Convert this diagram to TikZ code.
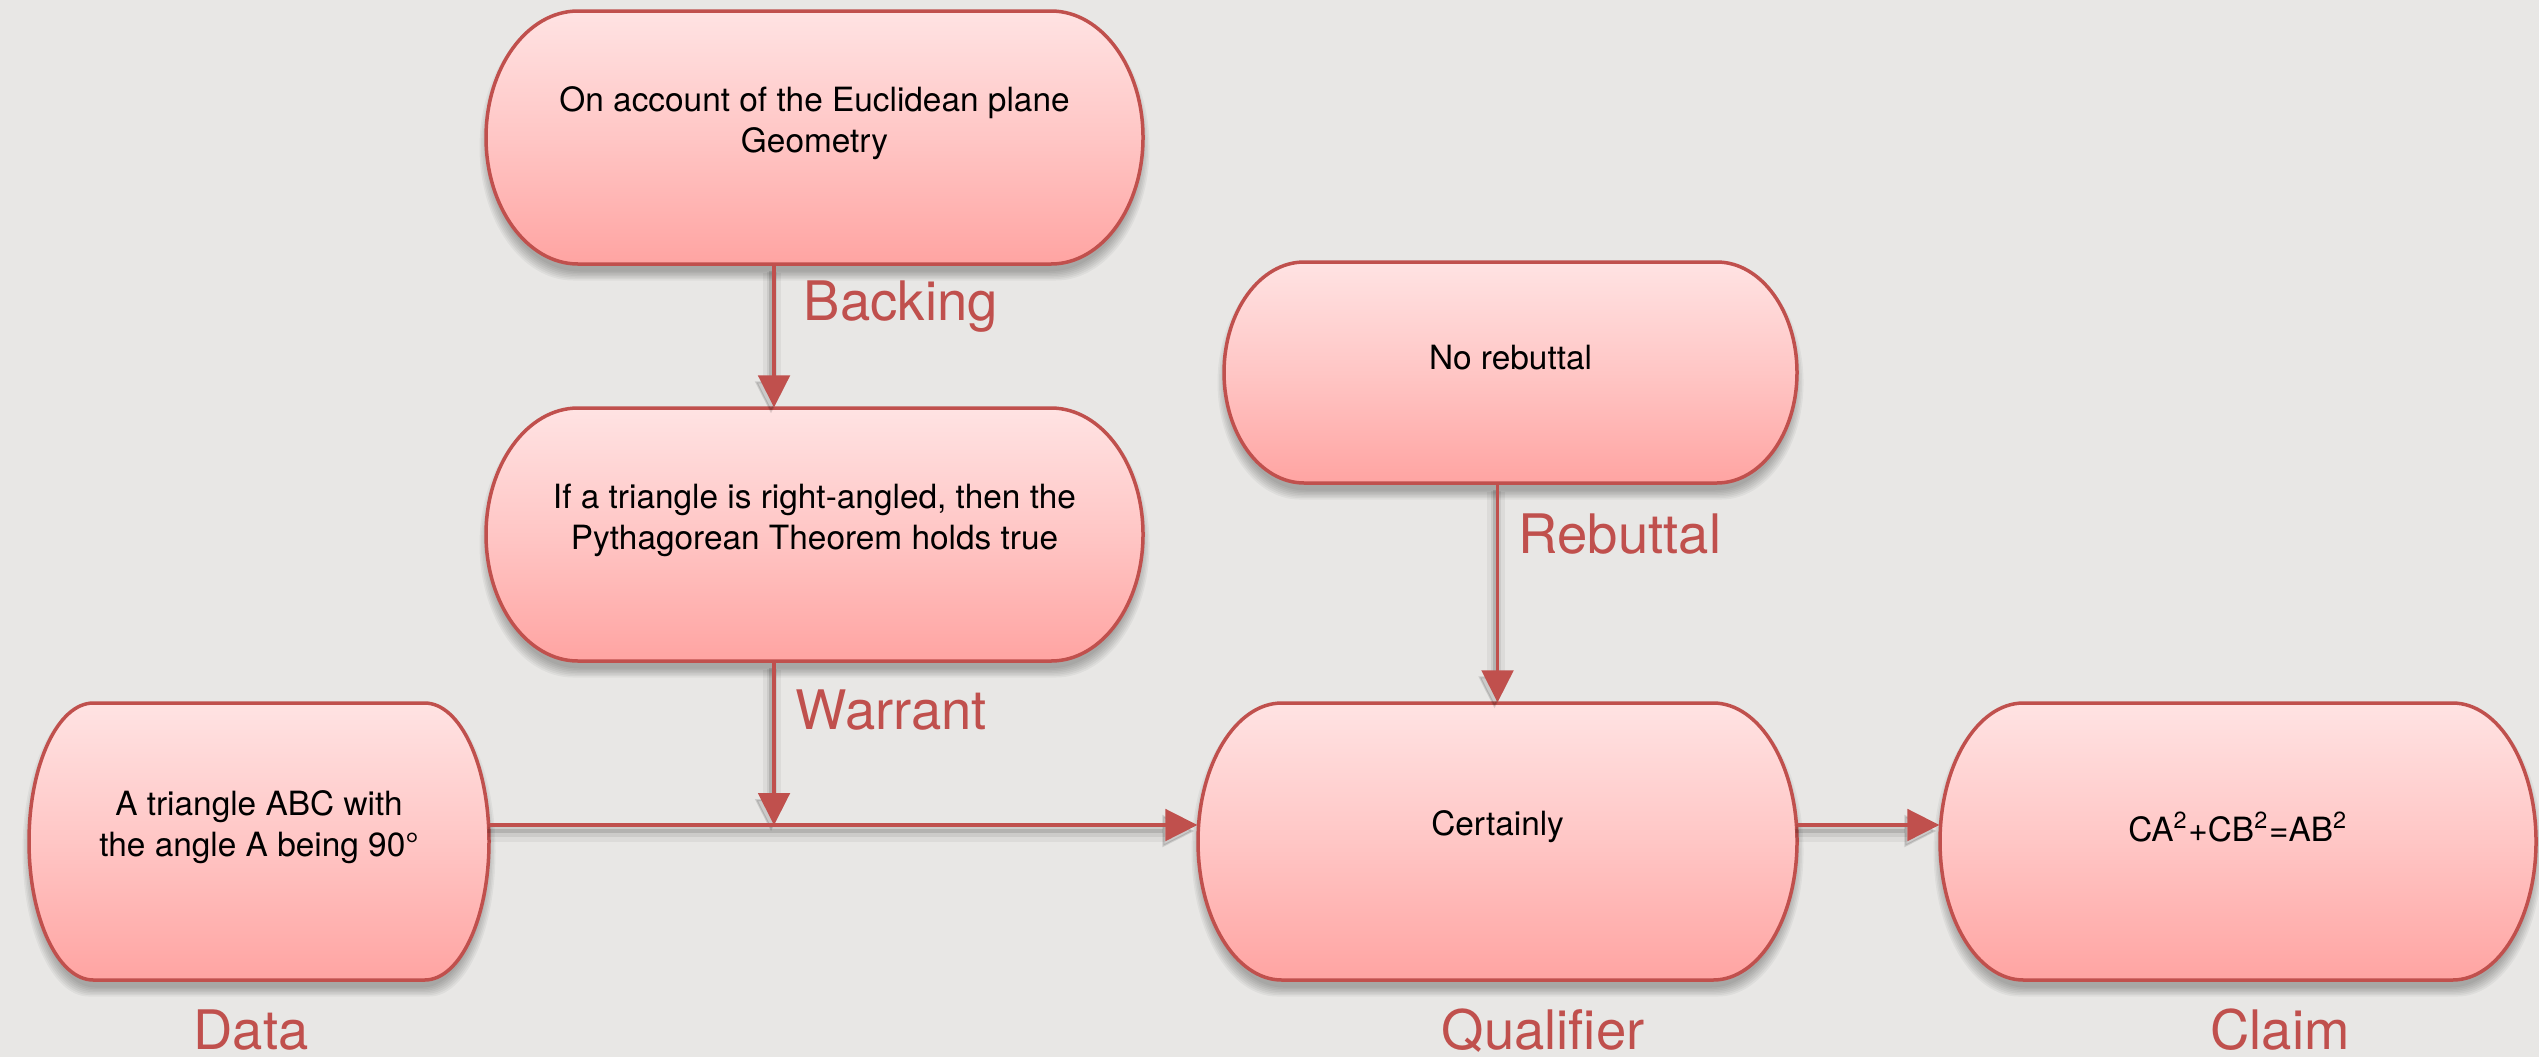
\documentclass[tikz,border=0pt]{standalone}
\usepackage{fontspec}
\setmainfont{TeX Gyre Heros}
\usetikzlibrary{arrows.meta}

\definecolor{bg}{HTML}{E8E7E5}
\definecolor{edge}{HTML}{C0504D}
\definecolor{filltop}{HTML}{FFE3E3}
\definecolor{fillmid}{HTML}{FFC6C5}
\definecolor{fillbot}{HTML}{FFA4A2}

% capsule outline: straight top and bottom, half-elliptic ends
% #1 path options, #2 centre x, #3 centre y, #4 width, #5 height
\newcommand\capsulepath[5]{%
  \pgfmathsetmacro\capL{(#2)-(#4)/2}%
  \pgfmathsetmacro\capR{(#2)+(#4)/2}%
  \pgfmathsetmacro\capT{(#3)+(#5)/2}%
  \pgfmathsetmacro\capB{(#3)-(#5)/2}%
  \pgfmathsetmacro\capRX{0.14*(#4)}%
  \pgfmathsetmacro\capRY{(#5)/2}%
  \path[#1] (\capL+\capRX,\capT) -- (\capR-\capRX,\capT)
    arc[start angle=90,end angle=-90,x radius=\capRX,y radius=\capRY]
    -- (\capL+\capRX,\capB)
    arc[start angle=270,end angle=90,x radius=\capRX,y radius=\capRY]
    -- cycle;}

% one argument box: soft shadow, shaded capsule, named node and its text
% #1 name, #2 cx, #3 cy, #4 width, #5 height, #6 text
\newcommand\argbox[6]{%
  \foreach \k in {1,...,7}{%
    \capsulepath{fill=black, fill opacity=0.045}{#2}{(#3)-10}{(#4)+3*\k-8}{(#5)+3*\k-8}%
  }%
  \capsulepath{top color=filltop, bottom color=fillbot, middle color=fillmid,
    draw=edge, line width=0.35mm}{#2}{#3}{#4}{#5}%
  \node[boxnode, minimum width=#4*0.1mm, minimum height=#5*0.1mm,
    label={[boxtext, name=#1-text]center:{#6}}] (#1) at (#2,#3) {};%
}

\tikzset{
  boxnode/.style={rectangle, draw=none, inner sep=0},
  boxtext/.style={font=\fontsize{9.5}{11.7}\selectfont, align=center,
    text=black, inner sep=0, yshift=1.45mm},
  tag/.style={font=\fontsize{15.5}{18}\selectfont, text=edge, inner sep=0},
  tip/.style={-{Triangle[length=3.2mm,width=3.2mm,line width=0.2mm]}},
  conn/.style={draw=edge, line width=0.33mm, tip,
    preaction={draw=black, opacity=0.05, line width=1.8mm, arrows=-,
      shorten >=3mm, transform canvas={xshift=-0.2mm, yshift=-0.8mm}},
    preaction={draw=black, opacity=0.07, line width=1.0mm, arrows=-,
      shorten >=3mm, transform canvas={xshift=-0.2mm, yshift=-0.7mm}},
    preaction={draw=black, opacity=0.12, line width=0.4mm,
      transform canvas={xshift=-0.3mm, yshift=-0.6mm}}},
}

\begin{document}
\begin{tikzpicture}[x=0.1mm, y=0.1mm]
  \useasboundingbox (0,0) rectangle (2539,1057);
  \fill[bg] (0,0) rectangle (2539,1057);

  % boxes
  \argbox{backing}{814.5}{919.5}{657}{253}{On account of the Euclidean plane\\Geometry}
  \argbox{warrant}{814.5}{522.5}{657}{253}{If a triangle is right-angled, then the\\Pythagorean Theorem holds true}
  \argbox{rebuttal}{1510.5}{684.5}{573}{221}{No rebuttal}
  \argbox{data}{259}{215.5}{460}{277}{A triangle ABC with\\the angle A being 90°}
  \argbox{qualifier}{1497.5}{215.5}{599}{277}{Certainly}
  \argbox{claim}{2238}{215.5}{596}{277}{CA\textsuperscript{2}+CB\textsuperscript{2}=AB\textsuperscript{2}}

  % where the warrant meets the data line
  \coordinate (wj) at (774,232);

  % connectors
  \draw[conn] (backing.south -| wj) -- (warrant.north -| wj);
  \draw[conn] (warrant.south -| wj) -- (wj);
  \draw[conn] (data.east |- wj) -- (qualifier.west |- wj);
  \draw[conn] (rebuttal.south -| qualifier.north) -- (qualifier.north);
  \draw[conn] (qualifier.east |- wj) -- (claim.west |- wj);

  % element names
  \node[tag, anchor=base west] (backing-tag) at (803,737) {Backing};
  \node[tag, anchor=base west] (warrant-tag) at (795,328) {Warrant};
  \node[tag, anchor=base west] (rebuttal-tag) at (1518,504) {Rebuttal};
  \node[tag, anchor=base] (data-tag) at (251,8) {Data};
  \node[tag, anchor=base] (qualifier-tag) at (1543,8) {Qualifier};
  \node[tag, anchor=base] (claim-tag) at (2280,8) {Claim};
\end{tikzpicture}
\end{document}
